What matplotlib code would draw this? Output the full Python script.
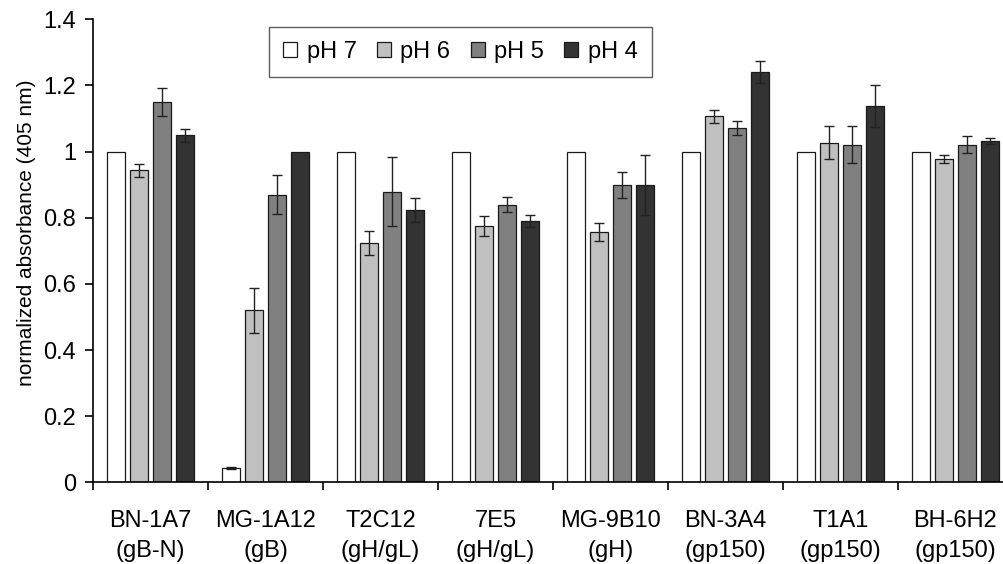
import numpy as np
import matplotlib
matplotlib.use('Agg')
import matplotlib.pyplot as plt

plt.rcParams['font.family'] = ['Liberation Sans', 'DejaVu Sans']

antibodies = ['BN-1A7\n(gB-N)', 'MG-1A12\n(gB)', 'T2C12\n(gH/gL)', '7E5\n(gH/gL)',
              'MG-9B10\n(gH)', 'BN-3A4\n(gp150)', 'T1A1\n(gp150)', 'BH-6H2\n(gp150)']
series = ['pH 7', 'pH 6', 'pH 5', 'pH 4']
colors = ['#ffffff', '#c0c0c0', '#808080', '#333333']

ph7 = [1.0, 0.042, 1.0, 1.0, 1.0, 1.0, 1.0, 1.0]
ph7_err = [0, 0.003, 0, 0, 0, 0, 0, 0]
ph6 = [0.943, 0.52, 0.724, 0.775, 0.758, 1.107, 1.027, 0.978]
ph6_err = [0.02, 0.067, 0.036, 0.031, 0.027, 0.019, 0.05, 0.012]
ph5 = [1.150, 0.869, 0.879, 0.839, 0.899, 1.071, 1.021, 1.021]
ph5_err = [0.043, 0.059, 0.104, 0.023, 0.038, 0.021, 0.056, 0.026]
ph4 = [1.049, 1.0, 0.824, 0.790, 0.899, 1.241, 1.138, 1.032]
ph4_err = [0.02, 0, 0.037, 0.019, 0.091, 0.033, 0.063, 0.008]

values = [ph7, ph6, ph5, ph4]
errors = [ph7_err, ph6_err, ph5_err, ph4_err]

fig = plt.figure(figsize=(10.04, 5.64), dpi=100)
ax = fig.add_axes([0.0926, 0.1448, 0.9163, 0.8209])

x = np.arange(len(antibodies))
pitch = 0.2
width = 0.16
for i, (vals, errs) in enumerate(zip(values, errors)):
    pos = x + (i - 1.5) * pitch
    ax.bar(pos, vals, width, color=colors[i], edgecolor='#1a1a1a', linewidth=0.9,
           label=series[i], zorder=2)
    e = np.array(errs)
    m = e > 0
    ax.errorbar(pos[m], np.array(vals)[m], yerr=e[m], fmt='none', ecolor='#222222',
                elinewidth=1.0, capsize=3.5, capthick=1.0, zorder=3)

ax.set_xlim(-0.5, len(antibodies) - 0.5)
ax.set_ylim(0, 1.4)
ax.set_yticks(np.arange(0, 1.41, 0.2))
ax.set_yticklabels(['0', '0.2', '0.4', '0.6', '0.8', '1', '1.2', '1.4'])
ax.set_xticks(np.arange(-0.5, len(antibodies), 1.0))
ax.set_xticklabels([])
ax.set_xticks(x, minor=True)
ax.set_xticklabels(antibodies, minor=True, fontsize=17, linespacing=1.45)
ax.tick_params(axis='x', which='major', direction='out', length=6, width=1.2)
ax.tick_params(axis='x', which='minor', length=0, pad=20)
ax.tick_params(axis='y', direction='out', length=6, width=1.2, labelsize=17, pad=6)

for s in ['top', 'right']:
    ax.spines[s].set_visible(False)
ax.spines['left'].set_linewidth(1.2)
ax.spines['bottom'].set_linewidth(1.2)

ax.set_ylabel('normalized absorbance (405 nm)', fontsize=15)
ax.yaxis.set_label_coords(-0.062, 0.54)

leg = ax.legend(loc='upper left', bbox_to_anchor=(269 / 1004, 1 - 27 / 564),
                bbox_transform=fig.transFigure, ncol=4, fontsize=17,
                frameon=True, fancybox=False, handlelength=0.6, handleheight=0.6,
                handletextpad=0.4, columnspacing=0.85, borderpad=0.6, borderaxespad=0)
leg.get_frame().set_edgecolor('#333333')
leg.get_frame().set_linewidth(1.0)

fig.savefig('out.png', dpi=100)
